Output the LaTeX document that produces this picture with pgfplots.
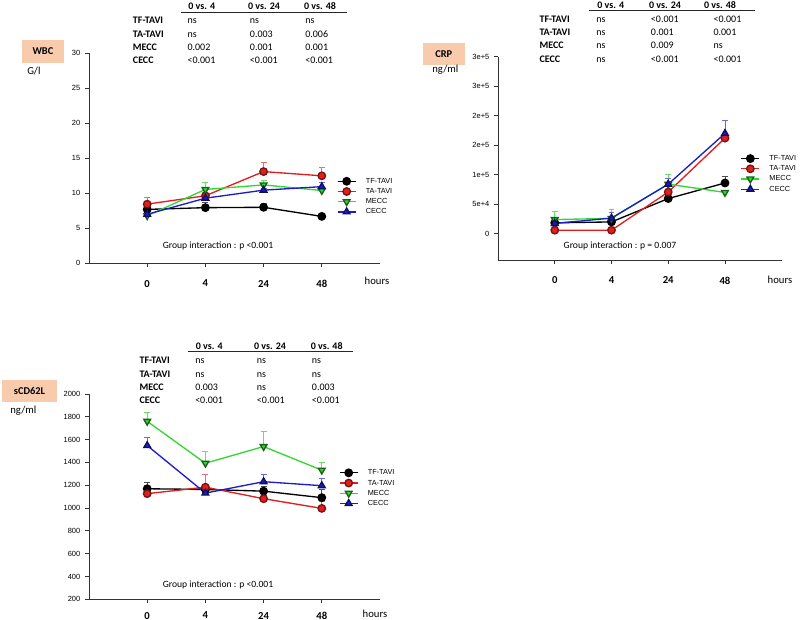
\documentclass[border=0pt]{standalone}
\usepackage{fontspec}
\setmainfont{Carlito}
\newfontfamily\arial{Liberation Sans}
\usepackage{pgfplots}
\pgfplotsset{compat=1.18}
\definecolor{peach}{HTML}{F8CBAD}
\definecolor{cred}{HTML}{E01E1E}
\definecolor{cgreen}{HTML}{33D633}
\definecolor{cblue}{HTML}{1C1CC8}

\pgfplotsset{
  panel/.style={scale only axis, axis lines*=left, xmin=-1, xmax=4,
    xtick={0,1,2,3}, xticklabels={0,4,24,48},
    tick align=outside, major tick length=3pt,
    axis line style={line width=0.75pt, black!80},
    tick style={line width=0.6pt, black!80},
    yticklabel style={font=\arial\fontsize{5.6}{6}\selectfont},
    xticklabel style={font=\bfseries\fontsize{8}{9}\selectfont, yshift=-6pt},
    /pgf/number format/assume math mode=true,
    /pgf/number format/1000 sep={},
    legend cell align=left,
    legend image code/.code={\draw[mark repeat=2,mark phase=2] plot coordinates {(0cm,0cm) (0.24cm,0cm) (0.48cm,0cm)};},
    legend style={draw=none, fill=none, inner sep=0pt, font=\arial\fontsize{5.5}{6}\selectfont,
      row sep=0.65pt, column sep=6pt, anchor=north west,
      nodes={inner sep=1pt, text height=4pt, text depth=1pt}},
  },
  ser/.style={line width=1pt, error bars/y dir=plus, error bars/y explicit,
    error bars/error mark options={rotate=90, mark size=2.2pt, line width=0.6pt}},
  tf/.style={ser, black, mark=*, mark size=2.8pt, mark options={fill=black, draw=black, solid},
    error bars/error bar style={black!70, line width=0.6pt}},
  ta/.style={ser, cred, mark=*, mark size=2.8pt, mark options={fill=cred, draw=cred!55!black, solid},
    error bars/error bar style={cred!65, line width=0.6pt}},
  me/.style={ser, cgreen, mark=triangle*, mark size=2.9pt, mark options={fill=cgreen, draw=cgreen!45!black, solid, rotate=180},
    error bars/error bar style={cgreen!75, line width=0.6pt}},
  ce/.style={ser, cblue, mark=triangle*, mark size=2.9pt, mark options={fill=cblue, draw=cblue!50!black, solid},
    error bars/error bar style={cblue!65, line width=0.6pt}},
}
\tikzset{
  tab/.style={font=\fontsize{7.5}{9}\selectfont, inner sep=0pt, anchor=base west},
  tabh/.style={font=\bfseries\fontsize{7.5}{9}\selectfont, inner sep=0pt, anchor=base},
  tabr/.style={font=\bfseries\fontsize{7.5}{9}\selectfont, inner sep=0pt, anchor=base west},
  box/.style={fill=peach, draw=none, font=\bfseries\fontsize{7.8}{9}\selectfont, inner sep=0pt},
  unit/.style={font=\fontsize{8}{9}\selectfont, inner sep=0pt, anchor=base west},
  gi/.style={font=\fontsize{7.2}{8}\selectfont, inner sep=0pt},
  hrs/.style={font=\fontsize{8}{9}\selectfont, inner sep=0pt},
}

\begin{document}
\begin{tikzpicture}[x=0.75pt,y=0.75pt]
\path[use as bounding box] (0,0) rectangle (800,619);

% ---------------- WBC ----------------
\begin{axis}[panel, at={(66.75pt,266.775pt)}, anchor=south west,
  width=218.25pt, height=157.5pt, ymin=0, ymax=30, ytick={0,5,...,30},
  legend style={at={(0.851,0.414)}}]
\addplot+[tf] coordinates {(0,7.7) +- (0,0.4) (1,7.95) +- (0,0.7) (2,8.0) +- (0,0.6) (3,6.7) +- (0,0.4)};
\addplot+[ta] coordinates {(0,8.45) +- (0,1.0) (1,9.65) +- (0,0.3) (2,13.1) +- (0,1.35) (3,12.5) +- (0,1.2)};
\addplot+[me] coordinates {(0,6.8) +- (0,0.3) (1,10.55) +- (0,1.0) (2,11.2) +- (0,0.7) (3,10.4) +- (0,0.3)};
\addplot+[ce] coordinates {(0,7.0) +- (0,0.3) (1,9.3) +- (0,0.3) (2,10.45) +- (0,0.3) (3,10.95) +- (0,0.55)};
\legend{TF-TAVI,TA-TAVI,MECC,CECC}
\end{axis}
\node[box, minimum width=31pt, minimum height=16.7pt, anchor=north west] at (22,579) {WBC};
\node[unit] at (27,544) {G/l};
\draw[line width=0.75pt, black!85] (181,606.7) -- (346.7,606.7);
\node[tabh] at (201.7,609) {0 vs. 4};
\node[tabh] at (264,609) {0 vs. 24};
\node[tabh] at (320,609) {0 vs. 48};
\node[tabr] at (132.7,595.1) {TF-TAVI};
\node[tabr] at (132.7,581.8) {TA-TAVI};
\node[tabr] at (132.7,568.5) {MECC};
\node[tabr] at (132.7,555.1) {CECC};
\node[tab] at (187.3,595.1) {ns};     \node[tab] at (249.7,595.1) {ns};     \node[tab] at (305,595.1) {ns};
\node[tab] at (187.3,581.8) {ns};     \node[tab] at (249.7,581.8) {0.003};  \node[tab] at (305,581.8) {0.006};
\node[tab] at (187.3,568.5) {0.002};  \node[tab] at (249.7,568.5) {0.001};  \node[tab] at (305,568.5) {0.001};
\node[tab] at (187.3,555.1) {<0.001}; \node[tab] at (249.7,555.1) {<0.001}; \node[tab] at (305,555.1) {<0.001};
\node[gi] at (218,373) {Group interaction : p <0.001};
\node[hrs] at (377,338) {hours};

% ---------------- CRP ----------------
\begin{axis}[panel, at={(373.5pt,269.25pt)}, anchor=south west,
  width=212.8pt, height=152.5pt, ymin=-44500, ymax=300000,
  ytick={0,50000,100000,150000,200000,250000,300000},
  yticklabels={0,5e+4,1e+5,2e+5,2e+5,3e+5,3e+5}, scaled y ticks=false,
  legend style={at={(0.854,0.523)}}]
\addplot+[tf] coordinates {(0,18500) +- (0,3000) (1,20000) +- (0,3000) (2,59600) +- (0,3000) (3,86000) +- (0,11000)};
\addplot+[ta] coordinates {(0,6000) +- (0,2000) (1,6000) +- (0,2000) (2,70700) +- (0,3000) (3,162000) +- (0,30000)};
\addplot+[me] coordinates {(0,24000) +- (0,14000) (1,26000) +- (0,15000) (2,84000) +- (0,16000) (3,70000) +- (0,3000)};
\addplot+[ce] coordinates {(0,17500) +- (0,3000) (1,26500) +- (0,10000) (2,84000) +- (0,9000) (3,170000) +- (0,22000)};
\legend{TF-TAVI,TA-TAVI,MECC,CECC}
\end{axis}
\node[box, minimum width=31.2pt, minimum height=16.5pt, anchor=north west] at (422.7,576) {CRP};
\node[unit] at (432,546) {ng/ml};
\draw[line width=0.75pt, black!85] (589.3,608.3) -- (755,608.3);
\node[tabh] at (610.7,610.1) {0 vs. 4};
\node[tabh] at (665,610.1) {0 vs. 24};
\node[tabh] at (720,610.1) {0 vs. 48};
\node[tabr] at (539.3,596.8) {TF-TAVI};
\node[tabr] at (539.3,583.5) {TA-TAVI};
\node[tabr] at (539.3,570.1) {MECC};
\node[tabr] at (539.3,556.8) {CECC};
\node[tab] at (596,596.8) {ns}; \node[tab] at (650.7,596.8) {<0.001}; \node[tab] at (713.3,596.8) {<0.001};
\node[tab] at (596,583.5) {ns}; \node[tab] at (650.7,583.5) {0.001};  \node[tab] at (713.3,583.5) {0.001};
\node[tab] at (596,570.1) {ns}; \node[tab] at (650.7,570.1) {0.009};  \node[tab] at (713.3,570.1) {ns};
\node[tab] at (596,556.8) {ns}; \node[tab] at (650.7,556.8) {<0.001}; \node[tab] at (713.3,556.8) {<0.001};
\node[gi] at (620,373) {Group interaction : p = 0.007};
\node[hrs] at (780,339.3) {hours};

% ---------------- sCD62L ----------------
\begin{axis}[panel, at={(66.75pt,14.775pt)}, anchor=south west,
  width=218.25pt, height=154pt, ymin=200, ymax=2000, ytick={200,400,...,2000},
  xticklabel style={yshift=3pt},
  legend style={at={(0.858,0.640)}}]
\addplot+[tf] coordinates {(0,1169) +- (0,58) (1,1163) +- (0,40) (2,1148) +- (0,40) (3,1091) +- (0,70)};
\addplot+[ta] coordinates {(0,1126) +- (0,75) (1,1183) +- (0,114) (2,1082) +- (0,30) (3,997) +- (0,60)};
\addplot+[me] coordinates {(0,1760) +- (0,78) (1,1393) +- (0,105) (2,1539) +- (0,134) (3,1332) +- (0,64)};
\addplot+[ce] coordinates {(0,1548) +- (0,72) (1,1131) +- (0,20) (2,1231) +- (0,66) (3,1196) +- (0,66)};
\legend{TF-TAVI,TA-TAVI,MECC,CECC}
\end{axis}
\node[box, minimum width=41.2pt, minimum height=16.5pt, anchor=north west] at (1.7,239) {sCD62L};
\node[unit] at (10,206) {ng/ml};
\draw[line width=0.75pt, black!85] (188.3,267.3) -- (353.3,267.3);
\node[tabh] at (209.3,269.1) {0 vs. 4};
\node[tabh] at (270,269.1) {0 vs. 24};
\node[tabh] at (326.7,269.1) {0 vs. 48};
\node[tabr] at (139.3,255.1) {TF-TAVI};
\node[tabr] at (139.3,241.8) {TA-TAVI};
\node[tabr] at (139.3,228.5) {MECC};
\node[tabr] at (139.3,215.1) {CECC};
\node[tab] at (195,255.1) {ns};     \node[tab] at (256.7,255.1) {ns};     \node[tab] at (311.7,255.1) {ns};
\node[tab] at (195,241.8) {ns};     \node[tab] at (256.7,241.8) {ns};     \node[tab] at (311.7,241.8) {ns};
\node[tab] at (195,228.5) {0.003};  \node[tab] at (256.7,228.5) {ns};     \node[tab] at (311.7,228.5) {0.003};
\node[tab] at (195,215.1) {<0.001}; \node[tab] at (256.7,215.1) {<0.001}; \node[tab] at (311.7,215.1) {<0.001};
\node[gi] at (218,33.7) {Group interaction : p <0.001};
\node[hrs] at (375,5.5) {hours};
\end{tikzpicture}
\end{document}
